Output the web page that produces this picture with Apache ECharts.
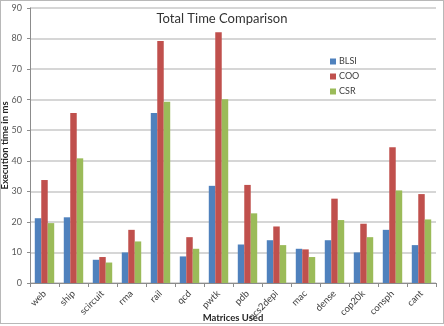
<!DOCTYPE html>
<html>
<head>
<meta charset="utf-8">
<script src="https://cdn.jsdelivr.net/npm/echarts@6/dist/echarts.min.js"></script>
<style>
  html, body { margin: 0; padding: 0; background: #fff; }
  #chart { width: 442px; height: 322px; border: 1px solid #b8b8b8; }
</style>
</head>
<body>
<div id="chart"></div>
<script>
const categories = ['web', 'ship', 'scircuit', 'rma', 'rail', 'qcd', 'pwtk', 'pdb', 'ncs2depi', 'mac', 'dense', 'cop20k', 'consph', 'cant']
const blsi = [21.2, 21.5, 7.6, 10.0, 55.6, 8.7, 31.8, 12.6, 14.0, 11.2, 14.0, 10.0, 17.4, 12.4]
const coo = [33.7, 55.6, 8.5, 17.4, 79.2, 15.0, 82.1, 32.1, 18.5, 11.0, 27.6, 19.4, 44.4, 29.1]
const csr = [19.6, 40.8, 6.7, 13.6, 59.3, 11.2, 60.1, 22.8, 12.4, 8.5, 20.6, 15.0, 30.3, 20.8]

const font = 'Lato, "Open Sans", sans-serif'
const barSeries = (name, data, color) => ({
  name,
  type: 'bar',
  data,
  barGap: 0,
  barCategoryGap: '33%',
  itemStyle: { color }
})

const chart = echarts.init(document.getElementById('chart'))
chart.setOption({
  animation: false,
  textStyle: { fontFamily: font },
  title: {
    text: 'Total Time Comparison',
    left: 'center',
    top: 6,
    textStyle: { fontSize: 13, fontWeight: 'normal', color: '#333', fontFamily: font }
  },
  legend: {
    orient: 'vertical',
    left: 324,
    top: 51,
    itemWidth: 6,
    itemHeight: 6,
    itemGap: 6,
    icon: 'rect',
    textStyle: { fontSize: 9, color: '#404040', fontFamily: font, padding: [0, 0, 0, -2] },
    data: ['BLSI', 'COO', 'CSR']
  },
  grid: { left: 29, right: 7, top: 7, bottom: 40, outerBoundsMode: 'none', containLabel: false },
  xAxis: {
    type: 'category',
    data: categories,
    name: 'Matrices Used',
    nameLocation: 'middle',
    nameGap: 30,
    nameMoveOverlap: false,
    nameTextStyle: { fontSize: 9.5, fontWeight: 'bold', color: '#262626', fontFamily: font },
    axisLine: { lineStyle: { color: '#8c8c8c' } },
    axisTick: { show: true, length: 4, lineStyle: { color: '#8c8c8c' } },
    axisLabel: { rotate: 45, fontSize: 9.5, color: '#404040', margin: 9, interval: 0 }
  },
  yAxis: {
    type: 'value',
    min: 0,
    max: 90,
    interval: 10,
    name: 'Execution time in ms',
    nameLocation: 'middle',
    nameGap: 20,
    nameMoveOverlap: false,
    nameTextStyle: { fontSize: 9.5, fontWeight: 'bold', color: '#262626', fontFamily: font },
    axisLine: { show: true, lineStyle: { color: '#8c8c8c' } },
    axisTick: { show: true, length: 3, lineStyle: { color: '#8c8c8c' } },
    axisLabel: { fontSize: 9, color: '#595959', margin: 8 },
    splitLine: { lineStyle: { color: '#c8c8c8', width: 1.5 } }
  },
  series: [
    barSeries('BLSI', blsi, '#4f81bd'),
    barSeries('COO', coo, '#c0504d'),
    barSeries('CSR', csr, '#9bbb59')
  ]
})
</script>
</body>
</html>
